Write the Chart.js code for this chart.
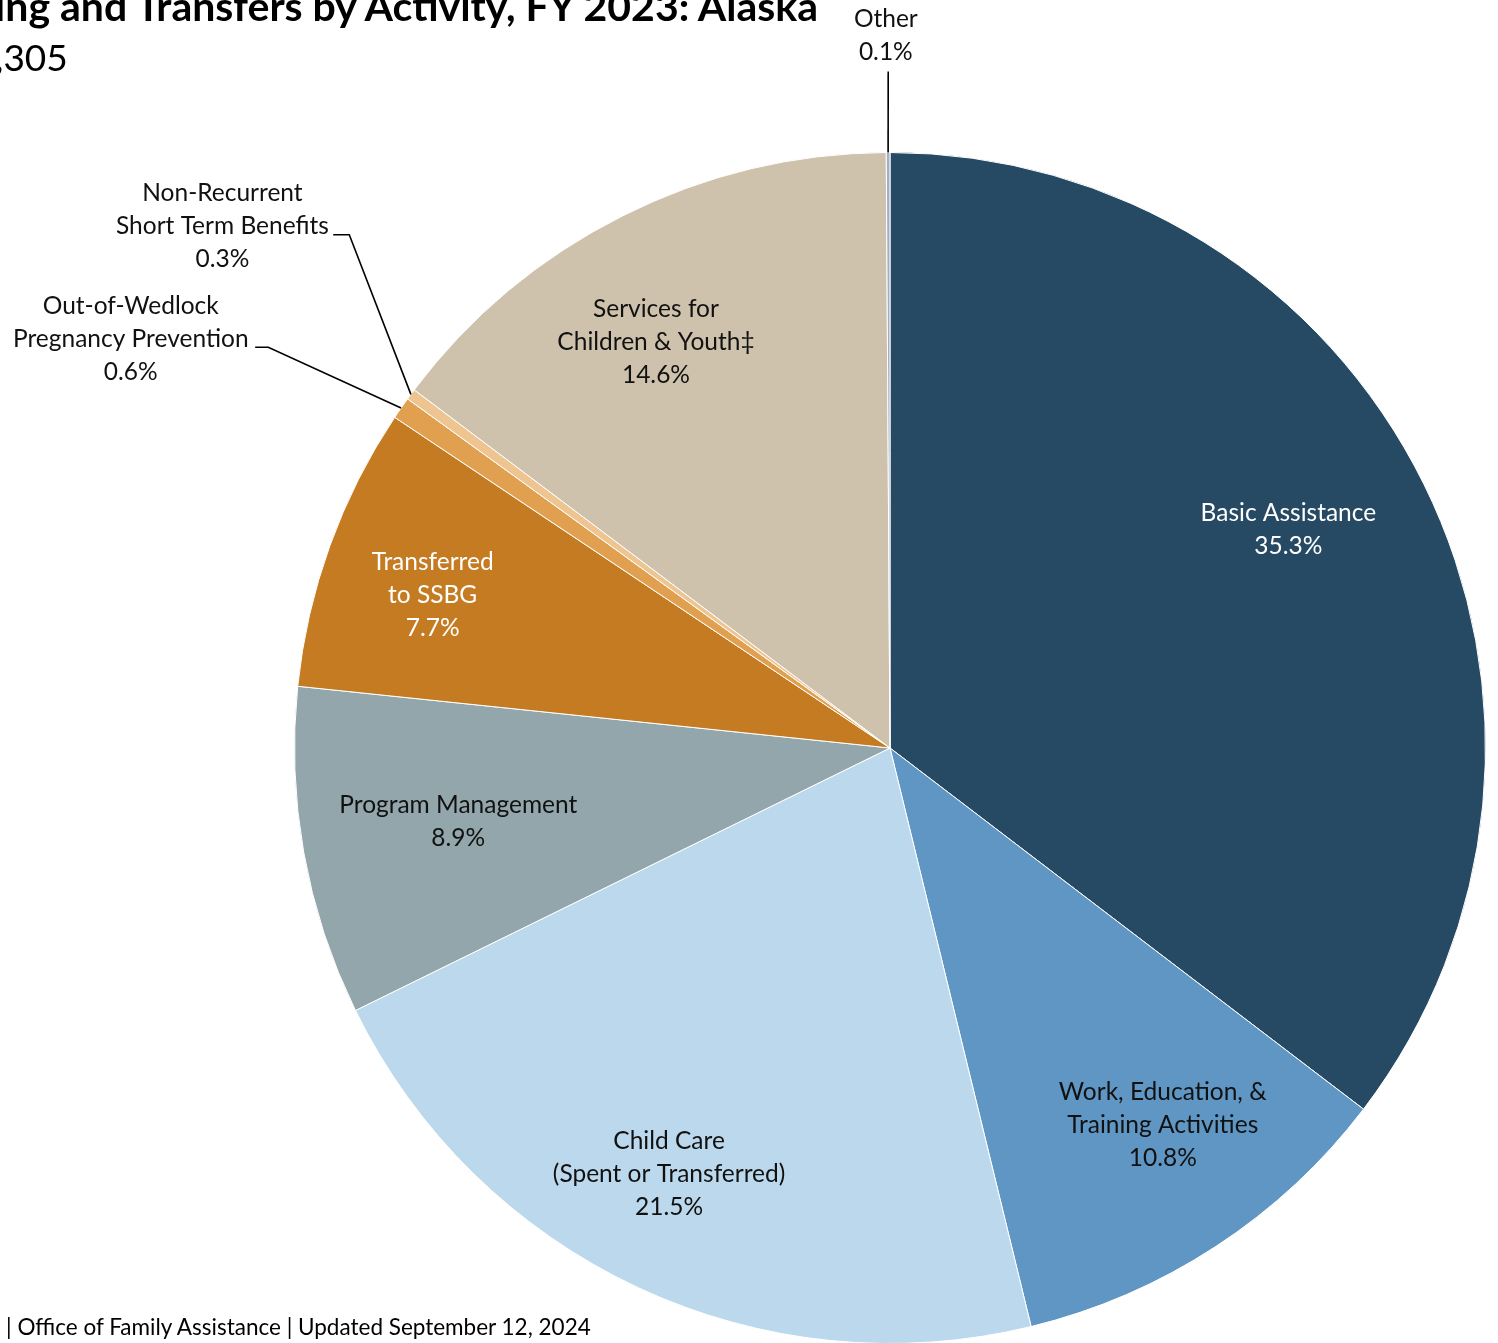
<!DOCTYPE html>
<html>
<head>
<meta charset="utf-8">
<script src="https://cdn.jsdelivr.net/npm/chart.js@4/dist/chart.umd.min.js"></script>
<style>
  html, body { margin: 0; padding: 0; background: #fff; overflow: hidden; width: 1498px; height: 1343px; }
  #wrap { position: relative; width: 1498px; height: 1343px; overflow: hidden; }
  canvas { position: absolute; left: 0; top: 0; }
  .title { position: absolute; right: 680px; top: -19px; white-space: nowrap; font-family: Lato, "Noto Sans", sans-serif; font-weight: bold; font-size: 41px; color: #000; }
  .sub { position: absolute; left: -5px; top: 34px; white-space: nowrap; font-family: Lato, "Noto Sans", sans-serif; font-size: 37px; color: #000; }
  .foot { position: absolute; left: 6px; top: 1313px; white-space: nowrap; font-family: Lato, "Noto Sans", sans-serif; font-size: 22.5px; color: #000; }
</style>
</head>
<body>
<div id="wrap">
  <canvas id="c" width="1498" height="1360"></canvas>
  <div class="title">Spending and Transfers by Activity, FY 2023: Alaska</div>
  <div class="sub">,305</div>
  <div class="foot">| Office of Family Assistance | Updated September 12, 2024</div>
</div>
<script>
const categories = [
  "Basic Assistance",
  "Work, Education, & Training Activities",
  "Child Care (Spent or Transferred)",
  "Program Management",
  "Transferred to SSBG",
  "Out-of-Wedlock Pregnancy Prevention",
  "Non-Recurrent Short Term Benefits",
  "Services for Children & Youth‡",
  "Other"
];
const values = [35.3, 10.8, 21.5, 8.9, 7.7, 0.6, 0.3, 14.6, 0.1];
const labelLines = [
  ["Basic Assistance"],
  ["Work, Education, &", "Training Activities"],
  ["Child Care", "(Spent or Transferred)"],
  ["Program Management"],
  ["Transferred", "to SSBG"],
  ["Out-of-Wedlock", "Pregnancy Prevention"],
  ["Non-Recurrent", "Short Term Benefits"],
  ["Services for", "Children & Youth‡"],
  ["Other"]
];
const colors = ["#264a64", "#5f96c3", "#bbd8ec", "#92a6ab", "#c47b22", "#e0a050", "#eec591", "#cfc2ac", "#a3afc3"];
const textColors = ["#ffffff", "#111", "#111", "#111", "#ffffff", "#111", "#111", "#111", "#111"];
// label centre offsets as fractions of radius (relative to pie centre)
const labelPos = [
  [0.669, -0.367], [0.458, 0.633], [-0.371, 0.716], [-0.725, 0.124], [-0.768, -0.257],
  [-1.275, -0.686], [-1.121, -0.876], [-0.393, -0.681], [-0.007, -1.196]
];
// leader lines: [elbow, end] as fractions of radius; null = none
const leaders = [null, null, null, null, null,
  [[-1.044, -0.673], [-1.066, -0.673]],
  [[-0.908, -0.862], [-0.935, -0.862]],
  null,
  [[-0.003, -1.136], null]
];

const labelPlugin = {
  id: 'labels',
  afterDraw(chart) {
    const ctx = chart.ctx;
    const meta = chart.getDatasetMeta(0);
    ctx.save();
    ctx.font = '24.5px Lato, "Noto Sans", sans-serif';
    ctx.textAlign = 'center';
    ctx.textBaseline = 'middle';
    const lh = 33;
    meta.data.forEach((arc, i) => {
      const cx = arc.x, cy = arc.y, r = arc.outerRadius;
      const lines = labelLines[i].concat([values[i].toFixed(1) + '%']);
      const px = cx + labelPos[i][0] * r, py = cy + labelPos[i][1] * r;
      ctx.fillStyle = textColors[i];
      const y0 = py - (lines.length - 1) * lh / 2;
      lines.forEach((t, k) => ctx.fillText(t, px, y0 + k * lh));
      const ld = leaders[i];
      if (ld) {
        const mid = (arc.startAngle + arc.endAngle) / 2;
        const ex = cx + Math.cos(mid) * r, ey = cy + Math.sin(mid) * r;
        ctx.strokeStyle = '#000';
        ctx.lineWidth = 1.6;
        ctx.beginPath();
        ctx.moveTo(ex, ey);
        ctx.lineTo(cx + ld[0][0] * r, cy + ld[0][1] * r);
        if (ld[1]) ctx.lineTo(cx + ld[1][0] * r, cy + ld[1][1] * r);
        ctx.stroke();
      }
    });
    ctx.restore();
  }
};

new Chart(document.getElementById('c'), {
  type: 'pie',
  data: {
    labels: categories,
    datasets: [{
      data: values,
      backgroundColor: colors,
      borderColor: '#ffffff',
      borderWidth: 1
    }]
  },
  options: {
    responsive: false,
    animation: false,
    layout: { padding: { left: 294, right: 12, top: 152, bottom: 16 } },
    plugins: { legend: { display: false }, tooltip: { enabled: false }, title: { display: false } }
  },
  plugins: [labelPlugin]
});
</script>
</body>
</html>
